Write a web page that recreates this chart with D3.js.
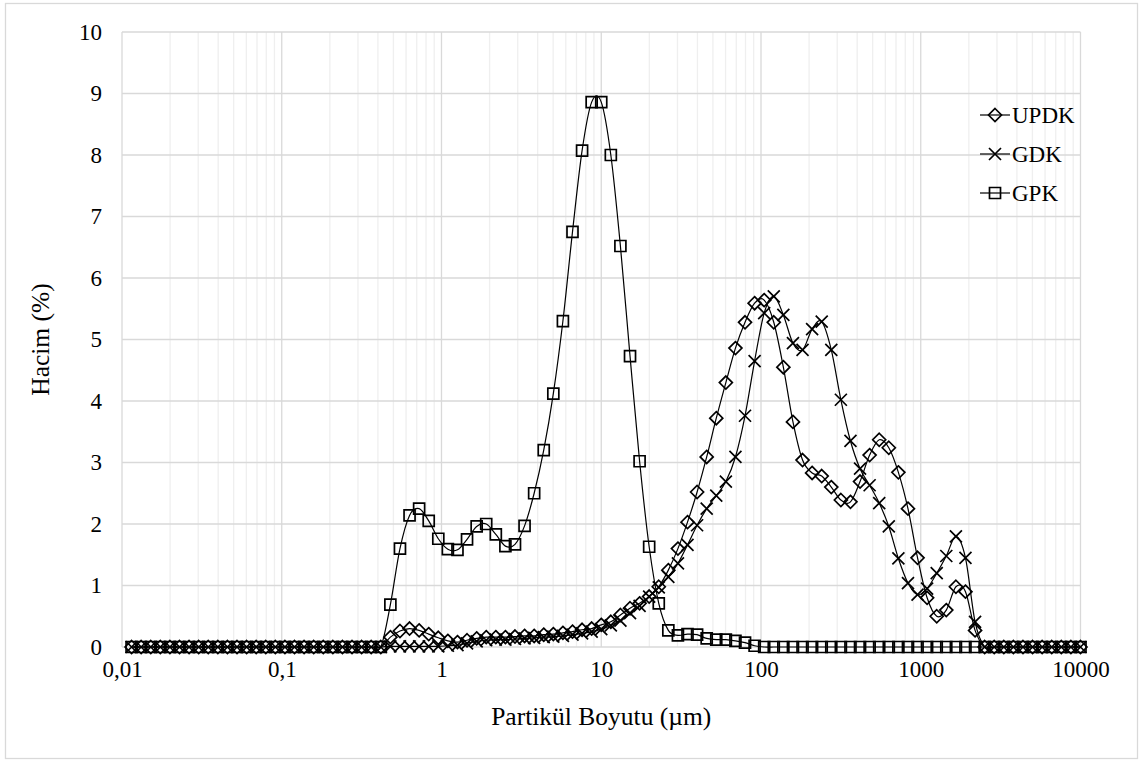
<!DOCTYPE html>
<html>
<head>
<meta charset="utf-8">
<script src="https://cdn.jsdelivr.net/npm/d3@7"></script>
<style>
  html, body { margin: 0; padding: 0; background: #fff; }
  svg { display: block; font-family: "Liberation Serif", "Times New Roman", Times, serif; }
</style>
</head>
<body>
<svg id="chart" width="1140" height="762"></svg>
<script>
// Particle size classes (µm), logarithmic steps of 0.06 decade
const sizes = [
  0.01148, 0.01318, 0.01514, 0.01738, 0.01995, 0.02291, 0.02630, 0.03020, 0.03467, 0.03981,
  0.04571, 0.05248, 0.06026, 0.06918, 0.07943, 0.09120, 0.1047, 0.1202, 0.1380, 0.1585,
  0.1820, 0.2089, 0.2399, 0.2754, 0.3162, 0.3631, 0.4169, 0.4786, 0.5495, 0.6310,
  0.7244, 0.8318, 0.9550, 1.096, 1.259, 1.445, 1.660, 1.905, 2.188, 2.512,
  2.884, 3.311, 3.802, 4.365, 5.012, 5.754, 6.607, 7.586, 8.710, 10.00,
  11.48, 13.18, 15.14, 17.38, 19.95, 22.91, 26.30, 30.20, 34.67, 39.81,
  45.71, 52.48, 60.26, 69.18, 79.43, 91.20, 104.7, 120.2, 138.0, 158.5,
  182.0, 208.9, 239.9, 275.4, 316.2, 363.1, 416.9, 478.6, 549.5, 631.0,
  724.4, 831.8, 955.0, 1096, 1259, 1445, 1660, 1905, 2188, 2512,
  2884, 3311, 3802, 4365, 5012, 5754, 6607, 7586, 8710, 10000
];

// Volume fractions (%) per size class
const updk = [
  0, 0, 0, 0, 0, 0, 0, 0, 0, 0,
  0, 0, 0, 0, 0, 0, 0, 0, 0, 0,
  0, 0, 0, 0, 0, 0, 0, 0.16, 0.26, 0.30,
  0.27, 0.21, 0.15, 0.10, 0.08, 0.11, 0.14, 0.16, 0.16, 0.16,
  0.17, 0.18, 0.18, 0.20, 0.21, 0.23, 0.25, 0.28, 0.30, 0.36,
  0.41, 0.52, 0.63, 0.71, 0.82, 0.98, 1.25, 1.60, 2.03, 2.52,
  3.09, 3.72, 4.30, 4.86, 5.28, 5.59, 5.64, 5.28, 4.55, 3.66,
  3.04, 2.83, 2.78, 2.60, 2.39, 2.36, 2.69, 3.12, 3.37, 3.24,
  2.84, 2.25, 1.45, 0.80, 0.50, 0.60, 0.98, 0.90, 0.27, 0,
  0, 0, 0, 0, 0, 0, 0, 0, 0, 0
];
const gdk = [
  0, 0, 0, 0, 0, 0, 0, 0, 0, 0,
  0, 0, 0, 0, 0, 0, 0, 0, 0, 0,
  0, 0, 0, 0, 0, 0, 0, 0.01, 0.01, 0.01,
  0.01, 0.01, 0.01, 0.02, 0.03, 0.06, 0.09, 0.11, 0.12, 0.12,
  0.13, 0.14, 0.15, 0.16, 0.17, 0.18, 0.20, 0.22, 0.25, 0.29,
  0.35, 0.43, 0.55, 0.67, 0.82, 0.97, 1.14, 1.36, 1.66, 1.98,
  2.25, 2.46, 2.69, 3.09, 3.76, 4.65, 5.43, 5.70, 5.40, 4.94,
  4.83, 5.17, 5.29, 4.83, 4.02, 3.35, 2.90, 2.63, 2.34, 1.96,
  1.44, 1.04, 0.85, 0.95, 1.20, 1.48, 1.80, 1.45, 0.41, 0,
  0, 0, 0, 0, 0, 0, 0, 0, 0, 0
];
const gpk = [
  0, 0, 0, 0, 0, 0, 0, 0, 0, 0,
  0, 0, 0, 0, 0, 0, 0, 0, 0, 0,
  0, 0, 0, 0, 0, 0, 0, 0.69, 1.60, 2.14,
  2.25, 2.05, 1.76, 1.59, 1.58, 1.75, 1.96, 2.00, 1.83, 1.64,
  1.67, 1.97, 2.50, 3.20, 4.12, 5.30, 6.75, 8.07, 8.86, 8.86,
  8.00, 6.52, 4.73, 3.02, 1.63, 0.71, 0.27, 0.19, 0.21, 0.20,
  0.14, 0.12, 0.12, 0.10, 0.07, 0.02, 0, 0, 0, 0,
  0, 0, 0, 0, 0, 0, 0, 0, 0, 0,
  0, 0, 0, 0, 0, 0, 0, 0, 0, 0,
  0, 0, 0, 0, 0, 0, 0, 0, 0, 0
];

const seriesNames = ["UPDK", "GDK", "GPK"];
const seriesMarkers = ["diamond", "cross", "square"];

const xTicks = [0.01, 0.1, 1, 10, 100, 1000, 10000];
const xTickLabels = ["0,01", "0,1", "1", "10", "100", "1000", "10000"];
const yTicks = [0, 1, 2, 3, 4, 5, 6, 7, 8, 9, 10];

const xTitle = "Partikül Boyutu (µm)";
const yTitle = "Hacim (%)";

// ---- layout ----
const plot = { left: 122, right: 1080.5, top: 32, bottom: 647 };
const serif = "'Liberation Serif', 'Times New Roman', Times, serif";
const svg = d3.select("#chart");

const x = d3.scaleLog().domain([0.01, 10000]).range([plot.left, plot.right]);
const y = d3.scaleLinear().domain([0, 10]).range([plot.bottom, plot.top]);

// outer chart border
svg.append("rect")
  .attr("x", 5.5).attr("y", 3.5)
  .attr("width", 1132).attr("height", 755)
  .attr("fill", "#fff").attr("stroke", "#d9d9d9").attr("stroke-width", 1.3);

// minor vertical gridlines (2..9 within each decade)
const minor = [];
for (let e = -2; e < 4; e++) {
  for (let k = 2; k <= 9; k++) minor.push(k * Math.pow(10, e));
}
const grid = svg.append("g");
grid.selectAll("line.minor").data(minor).join("line")
  .attr("class", "minor")
  .attr("x1", d => x(d)).attr("x2", d => x(d))
  .attr("y1", plot.top).attr("y2", plot.bottom)
  .attr("stroke", "#efefef").attr("stroke-width", 1.3);

// horizontal gridlines
grid.selectAll("line.hgrid").data(yTicks).join("line")
  .attr("class", "hgrid")
  .attr("x1", plot.left).attr("x2", plot.right)
  .attr("y1", d => y(d)).attr("y2", d => y(d))
  .attr("stroke", "#d9d9d9").attr("stroke-width", 1.3);

// major vertical gridlines (decades)
grid.selectAll("line.major").data(xTicks).join("line")
  .attr("class", "major")
  .attr("x1", d => x(d)).attr("x2", d => x(d))
  .attr("y1", plot.top).attr("y2", plot.bottom)
  .attr("stroke", "#d9d9d9").attr("stroke-width", 1.3);

// axes (labels only)
const fontSize = 23;
const titleSize = 25.5;
const xAxis = d3.axisBottom(x)
  .tickValues(xTicks)
  .tickFormat((d, i) => xTickLabels[i])
  .tickSize(0).tickPadding(14);
const gx = svg.append("g").attr("transform", `translate(0,${plot.bottom})`).call(xAxis);
gx.attr("font-family", serif);
gx.select(".domain").remove();
gx.selectAll("text").attr("font-size", fontSize).attr("fill", "#000");

const yAxis = d3.axisLeft(y).tickValues(yTicks).tickFormat(d3.format("d"))
  .tickSize(0).tickPadding(20);
const gy = svg.append("g").attr("transform", `translate(${plot.left},0)`).call(yAxis);
gy.attr("font-family", serif);
gy.select(".domain").remove();
gy.selectAll("text").attr("font-size", fontSize).attr("fill", "#000");

// axis titles
svg.append("text")
  .attr("x", (plot.left + plot.right) / 2).attr("y", 725)
  .attr("text-anchor", "middle").attr("font-size", titleSize)
  .attr("font-family", serif)
  .text(xTitle);
svg.append("text")
  .attr("transform", `translate(49,${(plot.top + plot.bottom) / 2}) rotate(-90)`)
  .attr("text-anchor", "middle").attr("font-size", titleSize)
  .attr("font-family", serif)
  .text(yTitle);

// marker shapes
function markerPath(type) {
  if (type === "square") { const s = 5.5; return `M${-s},${-s}H${s}V${s}H${-s}Z`; }
  if (type === "diamond") { const s = 6.5; return `M0,${-s}L${s},0L0,${s}L${-s},0Z`; }
  const s = 6; return `M${-s},${-s}L${s},${s}M${-s},${s}L${s},${-s}`;
}

const seriesValues = [updk, gdk, gpk];
const line = d3.line()
  .x(d => x(d.size)).y(d => y(d.v))
  .curve(d3.curveCardinal.tension(0));

seriesValues.forEach((vals, si) => {
  const pts = sizes.map((s, i) => ({ size: s, v: vals[i] }));
  const g = svg.append("g");
  g.append("path").datum(pts)
    .attr("d", line).attr("fill", "none")
    .attr("stroke", "#000").attr("stroke-width", 1.2);
  g.selectAll("path.mk").data(pts).join("path")
    .attr("class", "mk")
    .attr("transform", d => `translate(${x(d.size)},${y(d.v)})`)
    .attr("d", markerPath(seriesMarkers[si]))
    .attr("fill", "none").attr("stroke", "#000").attr("stroke-width", 1.7);
});

// legend
const legend = svg.append("g").attr("font-family", serif);
const legY = [115, 154, 193];
seriesNames.forEach((name, i) => {
  const g = legend.append("g").attr("transform", `translate(0,${legY[i]})`);
  g.append("line").attr("x1", 980).attr("x2", 1010).attr("y1", 0).attr("y2", 0)
    .attr("stroke", "#000").attr("stroke-width", 1.2);
  g.append("path").attr("transform", "translate(995,0)")
    .attr("d", markerPath(seriesMarkers[i]))
    .attr("fill", "none").attr("stroke", "#000").attr("stroke-width", 1.7);
  g.append("text").attr("x", 1012).attr("y", 0).attr("dy", "0.35em")
    .attr("font-size", fontSize).text(name);
});
</script>
</body>
</html>
